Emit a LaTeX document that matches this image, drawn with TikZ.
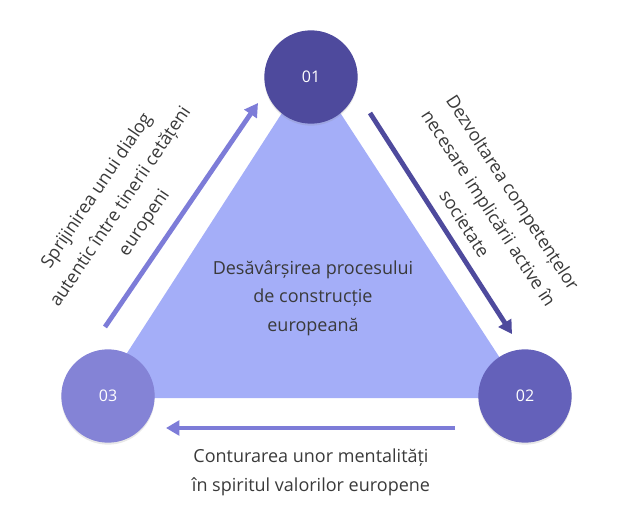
\documentclass[tikz,border=0pt]{standalone}
\usepackage{fontspec}
\setmainfont{Open Sans}
\usepackage{tikz}
\usetikzlibrary{arrows.meta,positioning,shadows}
\definecolor{deepviolet}{HTML}{4E4A9D}
\definecolor{midviolet}{HTML}{6461BA}
\definecolor{softviolet}{HTML}{8483D6}
\definecolor{paleblue}{HTML}{A4AEF8}
\definecolor{arrowviolet}{HTML}{7D7CD8}
\definecolor{inkgray}{HTML}{3A3A3A}

\begin{document}
\begin{tikzpicture}[x=0.75pt,y=-0.75pt,>={Triangle[length=10pt,width=11pt]},
  numdot/.style={circle,minimum size=70pt,inner sep=0pt,text=white,
    font=\fontsize{12}{12}\selectfont,
    drop shadow={opacity=0.18,shadow xshift=0pt,shadow yshift=-1.5pt}},
  caption/.style={align=center,text=inkgray,font=\fontsize{13.5}{21.5}\selectfont},
  flow/.style={->,line width=3.6pt}]
  \useasboundingbox (0,0) rectangle (640,528);
  % triangle behind the steps
  \coordinate (t1) at (311,68);
  \coordinate (t2) at (526,398);
  \coordinate (t3) at (98,398);
  \fill[paleblue] (t1) -- (t2) -- (t3) -- cycle;
  \node[caption] (core) at (313,298)
    {Desăvârșirea procesului\\de construcție\\europeană};
  % steps
  \node[numdot,fill=deepviolet] (c1) at (311,77) {01};
  \node[numdot,fill=midviolet] (c2) at (525,396) {02};
  \node[numdot,fill=softviolet] (c3) at (108,396) {03};
  % arrows between the steps
  \coordinate (a1s) at (370,113);
  \coordinate (a1e) at (512,334);
  \coordinate (a2s) at (455,428);
  \coordinate (a2e) at (166,428);
  \coordinate (a3s) at (105,327);
  \coordinate (a3e) at (258,103);
  \draw[flow,deepviolet] (a1s) -- (a1e);
  \draw[flow,arrowviolet] (a2s) -- (a2e);
  \draw[flow,arrowviolet] (a3s) -- (a3e);
  \node[caption,rotate=-57] (lab1) at (489,208)
    {Dezvoltarea competențelor\\necesare implicării active în\\societate};
  \node[caption] (lab2) at (311,472)
    {Conturarea unor mentalități\\în spiritul valorilor europene};
  \node[caption,rotate=56] (lab3) at (121,207)
    {Sprijinirea unui dialog\\autentic între tinerii cetățeni\\europeni};
\end{tikzpicture}
\end{document}
